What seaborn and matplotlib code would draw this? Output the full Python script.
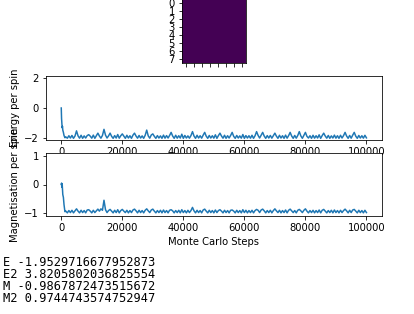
import numpy as np
import matplotlib
matplotlib.use("Agg")
import matplotlib.pyplot as plt
import seaborn as sns

# 8x8 lattice at the end of the run (all spins down)
lattice = [[-1] * 8 for _ in range(8)]

# Monte Carlo steps: fine sampling at the start, then every 500 steps
steps = [0, 100, 200, 300, 400, 500, 700, 900, 1200, 1500] + list(range(2000, 100001, 500))

energy = [
    0.0, -0.70, -1.00, -1.30, -1.20, -1.45, -1.60, -1.80, -1.95, -1.90,
    -1.98, -1.82, -1.97, -1.80, -1.99, -1.84, -1.50, -1.83, -1.98, -1.79,
    -1.99, -1.83, -1.97, -1.81, -1.75, -1.85, -1.98, -1.78, -1.99, -1.82,
    -1.65, -1.84, -1.98, -1.80, -1.40, -1.78, -1.97, -1.83, -1.65, -1.86,
    -1.99, -1.81, -1.97, -1.74, -1.98, -1.82, -1.70, -1.85, -1.99, -1.79,
    -1.97, -1.82, -1.99, -1.78, -1.65, -1.84, -1.98, -1.80, -1.97, -1.83,
    -1.99, -1.79, -1.45, -1.83, -1.98, -1.77, -1.70, -1.86, -1.99, -1.81,
    -1.97, -1.83, -1.99, -1.78, -1.98, -1.81, -1.97, -1.80, -1.60, -1.84,
    -1.99, -1.79, -1.98, -1.82, -1.97, -1.72, -1.99, -1.80, -1.97, -1.83,
    -1.98, -1.81, -1.55, -1.84, -1.99, -1.79, -1.97, -1.82, -1.98, -1.78,
    -1.60, -1.85, -1.99, -1.80, -1.97, -1.82, -1.98, -1.76, -1.99, -1.81,
    -1.65, -1.84, -1.98, -1.79, -1.99, -1.82, -1.97, -1.80, -1.60, -1.86,
    -1.99, -1.80, -1.97, -1.83, -1.98, -1.74, -1.99, -1.81, -1.97, -1.82,
    -1.98, -1.79, -1.99, -1.82, -1.55, -1.80, -1.97, -1.78, -1.60, -1.84,
    -1.99, -1.81, -1.97, -1.80, -1.98, -1.82, -1.65, -1.85, -1.99, -1.79,
    -1.97, -1.82, -1.99, -1.78, -1.98, -1.81, -1.60, -1.84, -1.99, -1.80,
    -1.98, -1.80, -1.55, -1.83, -1.99, -1.79, -1.60, -1.86, -1.97, -1.82,
    -1.99, -1.79, -1.98, -1.82, -1.97, -1.76, -1.99, -1.81, -1.65, -1.84,
    -1.98, -1.80, -1.99, -1.83, -1.97, -1.78, -1.98, -1.82, -1.99, -1.79,
    -1.97, -1.81, -1.60, -1.84, -1.99, -1.80, -1.98, -1.78, -1.60, -1.85,
    -1.99, -1.80, -1.97, -1.82, -1.98, -1.79, -1.96,
]

magnetisation = [
    0.0, 0.05, -0.10, 0.03, -0.20, -0.35, -0.45, -0.70, -0.95, -0.93,
    -0.99, -0.91, -0.98, -0.90, -0.99, -0.92, -0.85, -0.93, -0.99, -0.90,
    -0.98, -0.91, -0.99, -0.89, -0.88, -0.93, -0.99, -0.90, -0.98, -0.92,
    -0.86, -0.93, -0.85, -0.90, -0.55, -0.88, -0.98, -0.91, -0.87, -0.93,
    -0.99, -0.90, -0.98, -0.88, -0.99, -0.91, -0.87, -0.93, -0.98, -0.90,
    -0.99, -0.91, -0.98, -0.89, -0.86, -0.92, -0.99, -0.90, -0.98, -0.91,
    -0.99, -0.90, -0.85, -0.92, -0.98, -0.89, -0.86, -0.93, -0.99, -0.91,
    -0.98, -0.90, -0.99, -0.89, -0.98, -0.91, -0.99, -0.90, -0.88, -0.92,
    -0.99, -0.91, -0.98, -0.90, -0.99, -0.88, -0.98, -0.91, -0.99, -0.90,
    -0.98, -0.91, -0.80, -0.92, -0.99, -0.90, -0.98, -0.91, -0.99, -0.89,
    -0.86, -0.93, -0.99, -0.90, -0.98, -0.91, -0.99, -0.89, -0.98, -0.91,
    -0.88, -0.93, -0.99, -0.90, -0.98, -0.91, -0.99, -0.90, -0.89, -0.93,
    -0.99, -0.90, -0.98, -0.91, -0.99, -0.88, -0.98, -0.90, -0.99, -0.91,
    -0.98, -0.90, -0.99, -0.91, -0.87, -0.90, -0.98, -0.89, -0.86, -0.92,
    -0.99, -0.91, -0.98, -0.90, -0.99, -0.91, -0.85, -0.92, -0.98, -0.90,
    -0.99, -0.91, -0.98, -0.89, -0.99, -0.90, -0.86, -0.92, -0.98, -0.91,
    -0.99, -0.90, -0.87, -0.92, -0.98, -0.90, -0.85, -0.93, -0.99, -0.91,
    -0.98, -0.90, -0.99, -0.91, -0.98, -0.89, -0.99, -0.90, -0.87, -0.93,
    -0.99, -0.91, -0.98, -0.90, -0.99, -0.89, -0.98, -0.91, -0.99, -0.90,
    -0.98, -0.91, -0.86, -0.92, -0.99, -0.90, -0.98, -0.89, -0.87, -0.93,
    -0.99, -0.90, -0.98, -0.91, -0.99, -0.90, -0.98,
]

# printed averages
summary = [
    ("E", "-1.9529716677952873"),
    ("E2", "3.8205802036825554"),
    ("M", "-0.9867872473515672"),
    ("M2", "0.9744743574752947"),
]

W, H = 414, 314
fig = plt.figure(figsize=(W / 72, H / 72), dpi=72)

# lattice snapshot
ax0 = fig.add_axes([182 / W, (H - 63) / H, 64 / W, 64 / H])
ax0.imshow(np.array(lattice), cmap="viridis")
ax0.set_xticks(range(8))
ax0.set_xticklabels([])
ax0.set_yticks(range(8))

# energy per spin
ax1 = fig.add_axes([46 / W, (H - 140) / H, 335.7 / W, 64 / H])
sns.lineplot(x=steps, y=energy, ax=ax1)
ax1.set_ylim(-2.1, 2.1)
ax1.set_ylabel("Energy per spin")

# magnetisation per spin
ax2 = fig.add_axes([46 / W, (H - 216) / H, 335.7 / W, 63 / H])
sns.lineplot(x=steps, y=magnetisation, ax=ax2)
ax2.set_ylim(-1.1, 1.1)
ax2.set_ylabel("Magnetisation per spin")
ax2.set_xlabel("Monte Carlo Steps")

for i, (name, val) in enumerate(summary):
    fig.text(3 / W, 1 - (263 + 12 * i) / H, f"{name} {val}",
             family="DejaVu Sans Mono", fontsize=12, va="center", ha="left")

fig.savefig("out.png", dpi=72)
